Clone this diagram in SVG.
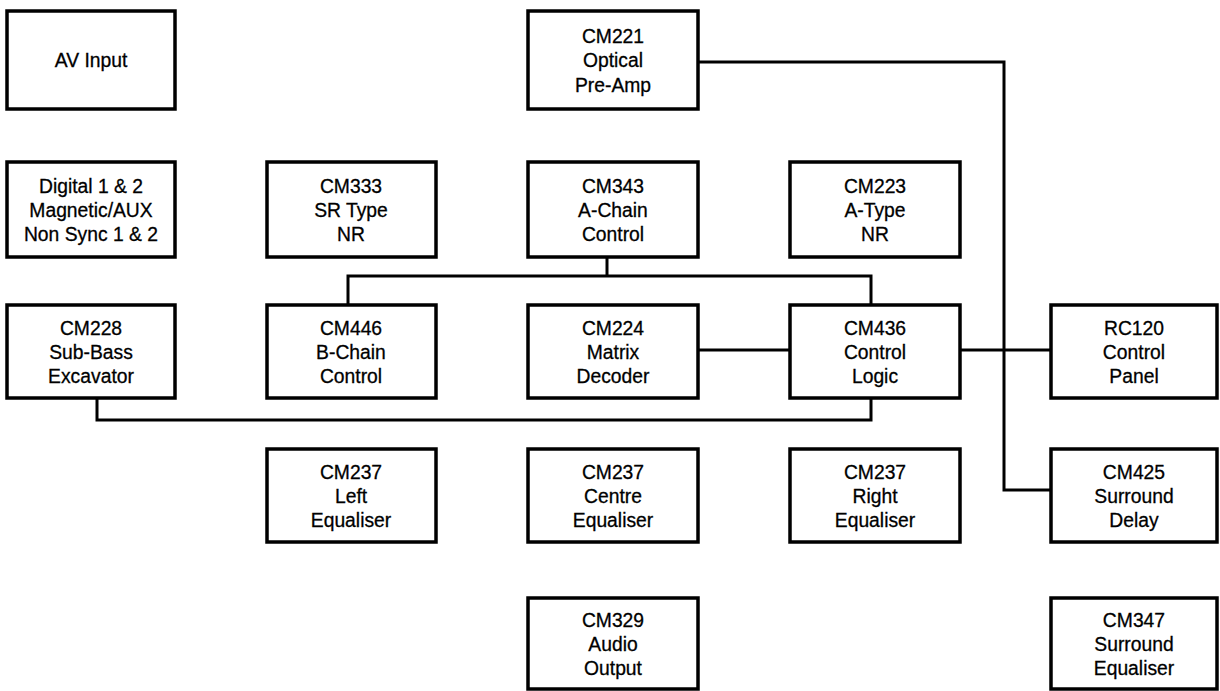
<svg xmlns="http://www.w3.org/2000/svg" width="1220" height="691" viewBox="0 0 1220 691">
<style>
.box{fill:#fff;stroke:#000;stroke-width:3.5}
.wire{fill:none;stroke:#000;stroke-width:3}
text{font-family:"Liberation Sans",Arial,sans-serif;font-size:21px;fill:#000;stroke:#000;stroke-width:0.3;text-anchor:middle;transform-box:fill-box;transform-origin:center;transform:scaleX(0.92)}
</style>
<rect width="1220" height="691" fill="#fff"/>
<g id="connectors">
<polyline class="wire" points="698,62 1004,62 1004,490 1051,490"/>
<polyline class="wire" points="607,257 607,276"/>
<polyline class="wire" points="348,305 348,276 871,276 871,305"/>
<polyline class="wire" points="698,350 790,350"/>
<polyline class="wire" points="960,350 1051,350"/>
<polyline class="wire" points="97,398 97,420 871,420 871,398"/>
</g>
<g id="av-input"><rect class="box" x="7" y="11" width="168" height="98"/><text x="91" y="67.5">AV Input</text></g>
<g id="cm221"><rect class="box" x="528" y="11" width="170" height="98"/><text x="613" y="43.3">CM221</text><text x="613" y="67.5">Optical</text><text x="613" y="91.7">Pre-Amp</text></g>
<g id="digital"><rect class="box" x="7" y="162" width="168" height="95"/><text x="91" y="192.8">Digital 1 &amp; 2</text><text x="91" y="217">Magnetic/AUX</text><text x="91" y="241.2">Non Sync 1 &amp; 2</text></g>
<g id="cm333"><rect class="box" x="267" y="162" width="169" height="95"/><text x="351" y="192.8">CM333</text><text x="351" y="217">SR Type</text><text x="351" y="241.2">NR</text></g>
<g id="cm343"><rect class="box" x="528" y="162" width="170" height="95"/><text x="613" y="192.8">CM343</text><text x="613" y="217">A-Chain</text><text x="613" y="241.2">Control</text></g>
<g id="cm223"><rect class="box" x="790" y="162" width="170" height="95"/><text x="875" y="192.8">CM223</text><text x="875" y="217">A-Type</text><text x="875" y="241.2">NR</text></g>
<g id="cm228"><rect class="box" x="7" y="305" width="168" height="93"/><text x="91" y="334.8">CM228</text><text x="91" y="359">Sub-Bass</text><text x="91" y="383.2">Excavator</text></g>
<g id="cm446"><rect class="box" x="267" y="305" width="169" height="93"/><text x="351" y="334.8">CM446</text><text x="351" y="359">B-Chain</text><text x="351" y="383.2">Control</text></g>
<g id="cm224"><rect class="box" x="528" y="305" width="170" height="93"/><text x="613" y="334.8">CM224</text><text x="613" y="359">Matrix</text><text x="613" y="383.2">Decoder</text></g>
<g id="cm436"><rect class="box" x="790" y="305" width="170" height="93"/><text x="875" y="334.8">CM436</text><text x="875" y="359">Control</text><text x="875" y="383.2">Logic</text></g>
<g id="rc120"><rect class="box" x="1051" y="305" width="166" height="93"/><text x="1134" y="334.8">RC120</text><text x="1134" y="359">Control</text><text x="1134" y="383.2">Panel</text></g>
<g id="cm237-left"><rect class="box" x="267" y="449" width="169" height="93"/><text x="351" y="478.8">CM237</text><text x="351" y="503">Left</text><text x="351" y="527.2">Equaliser</text></g>
<g id="cm237-centre"><rect class="box" x="528" y="449" width="170" height="93"/><text x="613" y="478.8">CM237</text><text x="613" y="503">Centre</text><text x="613" y="527.2">Equaliser</text></g>
<g id="cm237-right"><rect class="box" x="790" y="449" width="170" height="93"/><text x="875" y="478.8">CM237</text><text x="875" y="503">Right</text><text x="875" y="527.2">Equaliser</text></g>
<g id="cm425"><rect class="box" x="1051" y="449" width="166" height="93"/><text x="1134" y="478.8">CM425</text><text x="1134" y="503">Surround</text><text x="1134" y="527.2">Delay</text></g>
<g id="cm329"><rect class="box" x="528" y="598" width="170" height="91"/><text x="613" y="626.8">CM329</text><text x="613" y="651">Audio</text><text x="613" y="675.2">Output</text></g>
<g id="cm347"><rect class="box" x="1051" y="598" width="166" height="91"/><text x="1134" y="626.8">CM347</text><text x="1134" y="651">Surround</text><text x="1134" y="675.2">Equaliser</text></g>
</svg>
